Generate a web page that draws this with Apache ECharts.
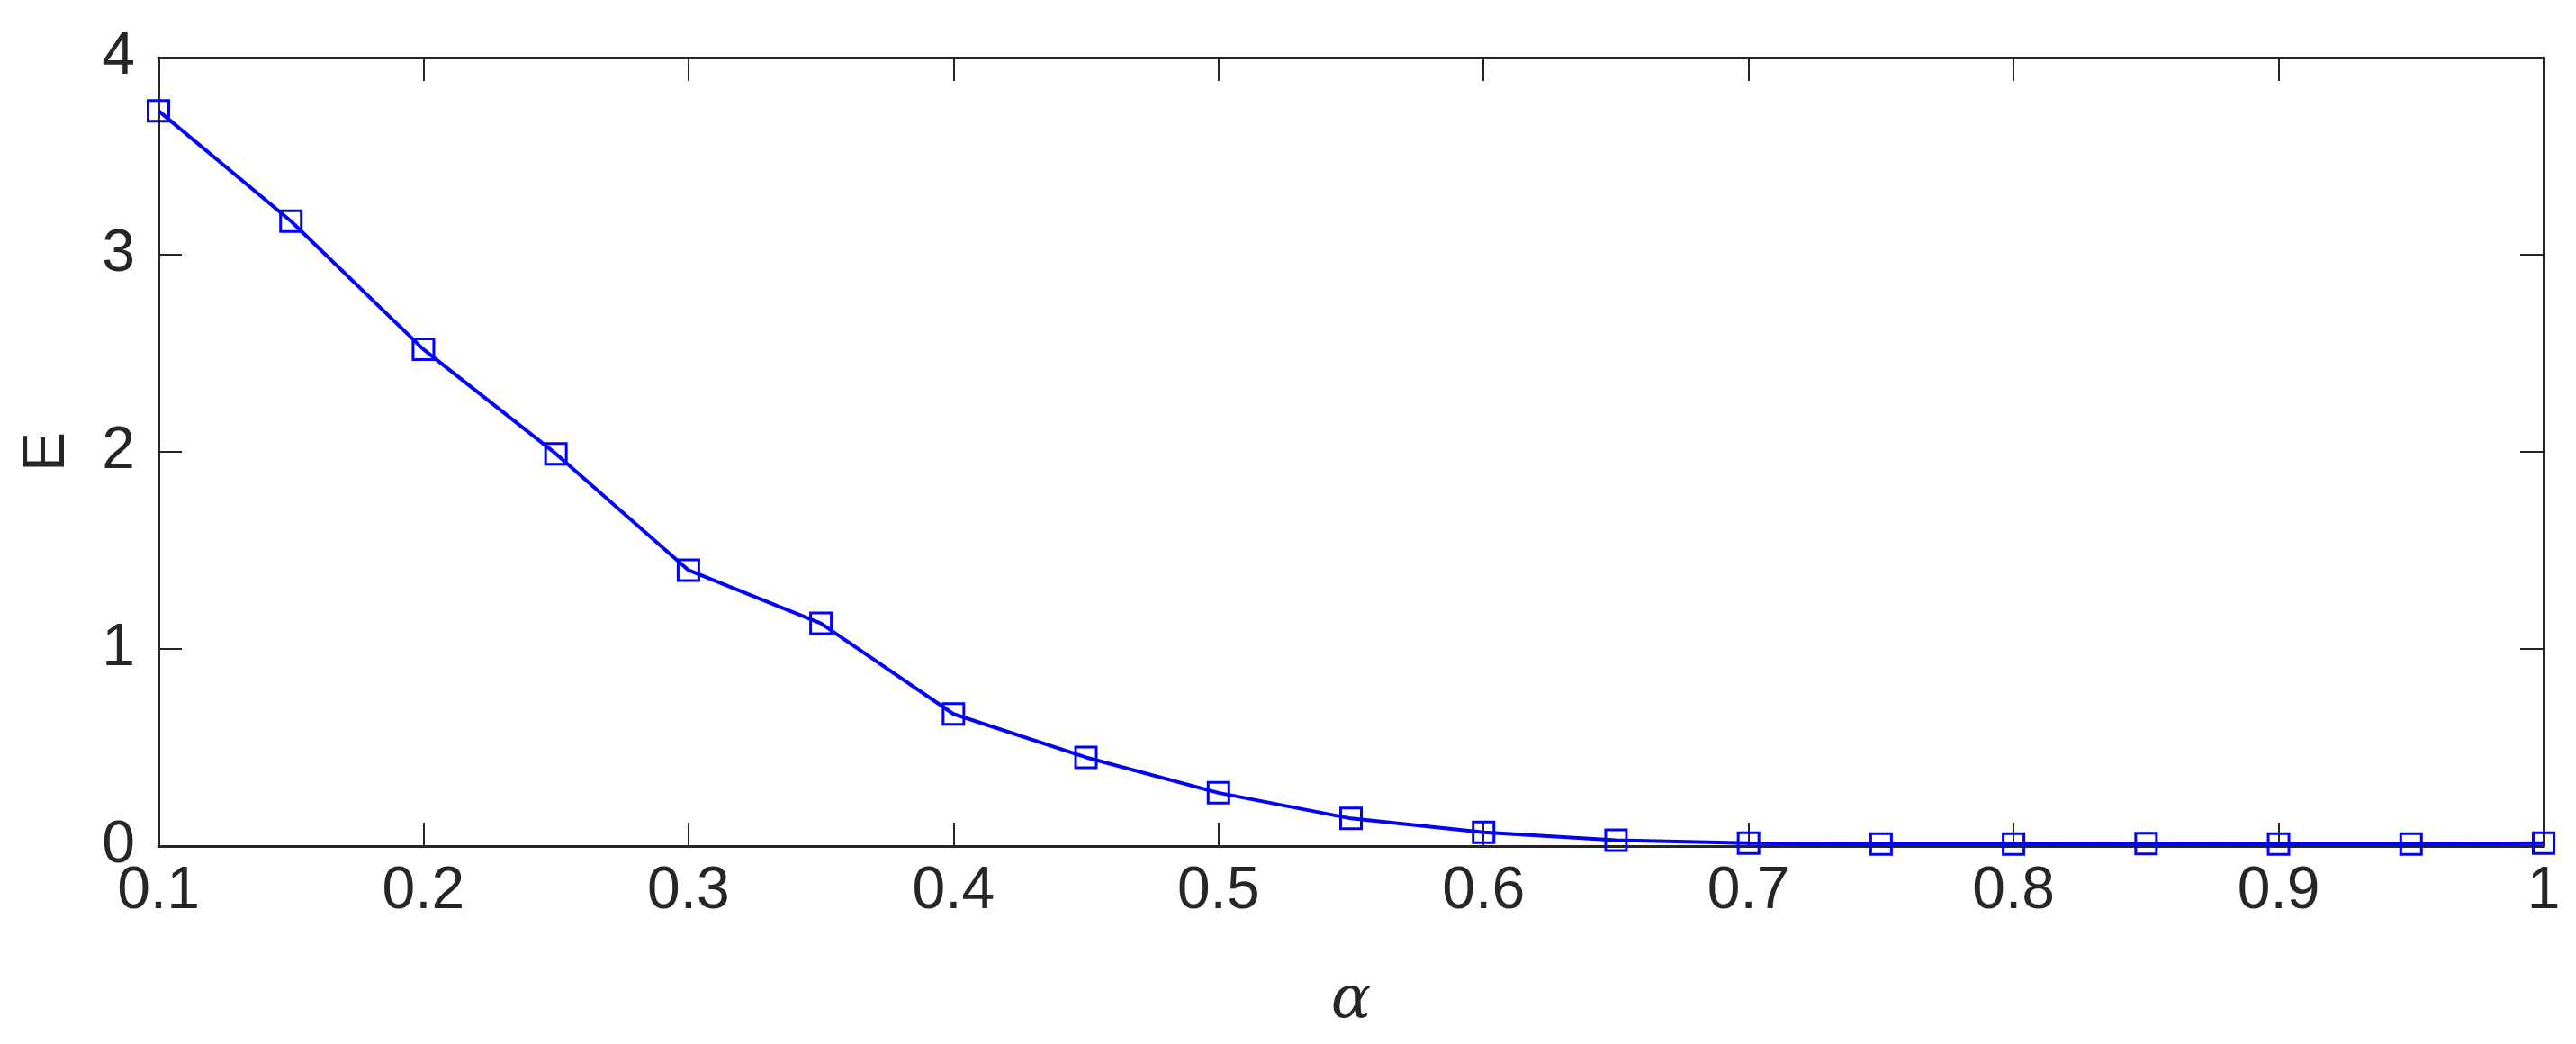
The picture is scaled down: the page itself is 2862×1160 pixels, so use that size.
<!DOCTYPE html>
<html>
<head>
<meta charset="utf-8">
<script src="https://cdn.jsdelivr.net/npm/echarts@6/dist/echarts.min.js"></script>
<style>html,body{margin:0;padding:0;background:#fff}#main{width:2862px;height:1160px}</style>
</head>
<body>
<div id="main"></div>
<script>
var alphaValues = [0.1,0.15,0.2,0.25,0.3,0.35,0.4,0.45,0.5,0.55,0.6,0.65,0.7,0.75,0.8,0.85,0.9,0.95,1];
var eValues = [3.73,3.17,2.52,1.99,1.40,1.13,0.67,0.45,0.27,0.14,0.07,0.03,0.015,0.01,0.01,0.012,0.01,0.01,0.015];

var chart = echarts.init(document.getElementById('main'));

var axisLine = { show : true, onZero : false, lineStyle : { color : '#262626', width : 3 } };
var tickIn = { show : true, inside : true, length : 26, lineStyle : { color : '#262626', width : 2 } };
var labelStyle = { color : '#262626', fontSize : 66, fontFamily : 'Liberation Sans', margin : 18 };

var data = [];
for (var i = 0; i < alphaValues.length; i++) {
	data.push([alphaValues[i], eValues[i]]);
}

chart.setOption({
	animation : false,
	grid : { left : 176, right : 36, top : 64, bottom : 220 },
	xAxis : [ {
		type : 'value', min : 0.1, max : 1, interval : 0.1,
		axisLine : axisLine, axisTick : tickIn, splitLine : { show : false },
		axisLabel : Object.assign({}, labelStyle, {
			formatter : function(v) { return String(Math.round(v * 10) / 10); }
		}),
		name : 'α', nameLocation : 'middle', nameGap : 140,
		nameTextStyle : { color : '#262626', fontSize : 66, fontFamily : 'DejaVu Serif', fontStyle : 'italic' }
	}, {
		type : 'value', position : 'top', min : 0.1, max : 1, interval : 0.1,
		axisLine : axisLine, axisTick : tickIn, axisLabel : { show : false }, splitLine : { show : false }
	} ],
	yAxis : [ {
		type : 'value', min : 0, max : 4, interval : 1,
		axisLine : axisLine, axisTick : tickIn, splitLine : { show : false },
		axisLabel : Object.assign({}, labelStyle, { margin : 26 }),
		name : 'E', nameLocation : 'middle', nameGap : 90, nameRotate : 90,
		nameTextStyle : { color : '#262626', fontSize : 66, fontFamily : 'Liberation Sans' }
	}, {
		type : 'value', position : 'right', min : 0, max : 4, interval : 1,
		axisLine : axisLine, axisTick : tickIn, axisLabel : { show : false }, splitLine : { show : false }
	} ],
	series : [ {
		type : 'line',
		data : data,
		symbol : 'rect',
		symbolSize : 23,
		showAllSymbol : true,
		lineStyle : { color : '#0000ff', width : 4 },
		itemStyle : { color : 'rgba(0,0,0,0)', borderColor : '#0000ff', borderWidth : 3 }
	} ]
});
</script>
</body>
</html>
